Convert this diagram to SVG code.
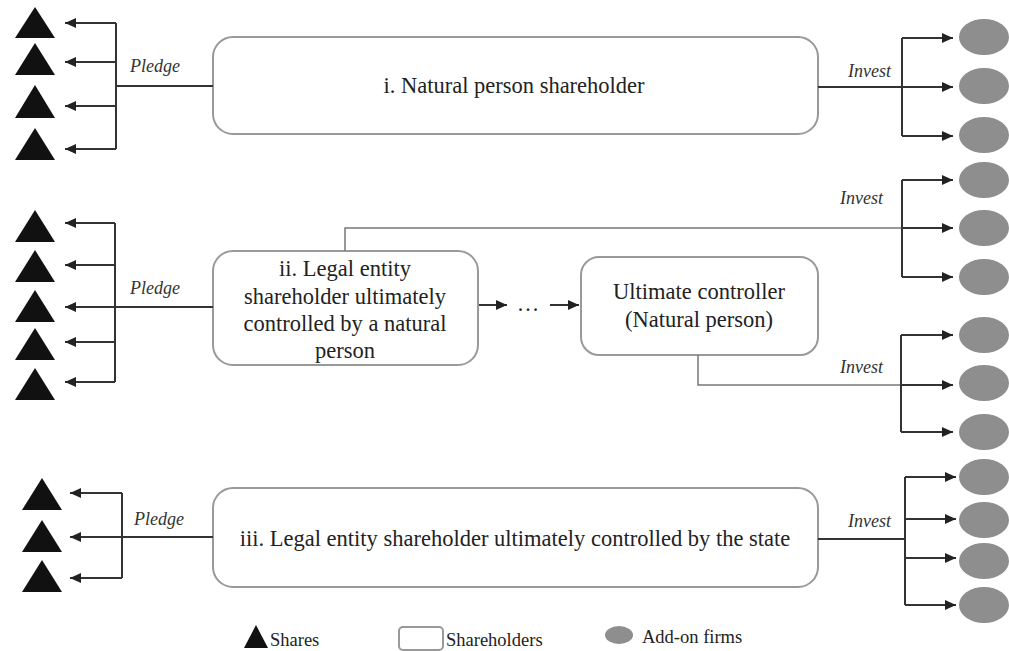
<svg xmlns="http://www.w3.org/2000/svg" width="1009" height="651" viewBox="0 0 1009 651">
<style>
.box{fill:#fff;stroke:#999;stroke-width:2}
.tri{fill:#111}
.firm{fill:#8e8e8e}
.ln{fill:none;stroke:#333;stroke-width:2}
.lnl{fill:none;stroke:#777;stroke-width:1.5}
.t{font-family:"Liberation Serif","Times New Roman",serif;font-size:22.5px;fill:#222;text-anchor:middle}
.lab{font-family:"Liberation Serif","Times New Roman",serif;font-size:18px;font-style:italic;fill:#333}
.leg{font-family:"Liberation Serif","Times New Roman",serif;font-size:18.5px;fill:#222}
</style>
<defs>
<marker id="ah" markerUnits="userSpaceOnUse" markerWidth="11" markerHeight="10" refX="11" refY="5" orient="auto">
<path d="M0,0 L11,5 L0,10 z" fill="#222"/>
</marker>
</defs>
<rect width="1009" height="651" fill="#fff"/>

<g id="shares">
<polygon class="tri" points="35,7 55,38 15,38"/>
<polygon class="tri" points="35,43 55,75 15,75"/>
<polygon class="tri" points="35,85 55,118 15,118"/>
<polygon class="tri" points="35,128 55,160 15,160"/>
<polygon class="tri" points="35,210 55,242 15,242"/>
<polygon class="tri" points="35,250 55,282 15,282"/>
<polygon class="tri" points="35,290 55,322 15,322"/>
<polygon class="tri" points="35,328 55,360 15,360"/>
<polygon class="tri" points="35,368 55,400 15,400"/>
<polygon class="tri" points="42,478 62,510 22,510"/>
<polygon class="tri" points="42,520 62,552 22,552"/>
<polygon class="tri" points="42,560 62,592 22,592"/>
</g>

<g id="firms">
<ellipse class="firm" cx="984" cy="37" rx="25" ry="18"/>
<ellipse class="firm" cx="984" cy="86" rx="25" ry="18"/>
<ellipse class="firm" cx="984" cy="135" rx="25" ry="18"/>
<ellipse class="firm" cx="984" cy="180" rx="25" ry="18"/>
<ellipse class="firm" cx="984" cy="228" rx="25" ry="18"/>
<ellipse class="firm" cx="984" cy="277" rx="25" ry="18"/>
<ellipse class="firm" cx="984" cy="335" rx="25" ry="18"/>
<ellipse class="firm" cx="984" cy="383" rx="25" ry="18"/>
<ellipse class="firm" cx="984" cy="432" rx="25" ry="18"/>
<ellipse class="firm" cx="984" cy="477" rx="25" ry="18"/>
<ellipse class="firm" cx="984" cy="520" rx="25" ry="18"/>
<ellipse class="firm" cx="984" cy="561" rx="25" ry="18"/>
<ellipse class="firm" cx="984" cy="605" rx="25" ry="18"/>
</g>

<g id="box-i">
<rect class="box" x="213" y="37" width="605" height="97" rx="20"/>
<text class="t" x="514" y="93">i. Natural person shareholder</text>
</g>

<g id="box-ii">
<rect class="box" x="213" y="251" width="265" height="114" rx="20"/>
<text class="t" x="345" y="276">ii. Legal entity</text>
<text class="t" x="345" y="304">shareholder ultimately</text>
<text class="t" x="345" y="331">controlled by a natural</text>
<text class="t" x="345" y="358">person</text>
</g>

<g id="box-ultimate">
<rect class="box" x="581" y="257" width="237" height="98" rx="18"/>
<text class="t" x="699" y="299">Ultimate controller</text>
<text class="t" x="699" y="327">(Natural person)</text>
</g>

<g id="box-iii">
<rect class="box" x="213" y="488" width="605" height="99" rx="20"/>
<text class="t" x="515" y="546">iii. Legal entity shareholder ultimately controlled by the state</text>
</g>

<g id="connectors">
<path class="ln" d="M213,86 H116 M116,23 V149"/>
<path class="ln" marker-end="url(#ah)" d="M116,23 H65"/>
<path class="ln" marker-end="url(#ah)" d="M116,62 H65"/>
<path class="ln" marker-end="url(#ah)" d="M116,106 H65"/>
<path class="ln" marker-end="url(#ah)" d="M116,149 H65"/>
<path class="ln" d="M818,87 H902 M902,38 V136"/>
<path class="ln" marker-end="url(#ah)" d="M902,38 H953"/>
<path class="ln" marker-end="url(#ah)" d="M902,87 H953"/>
<path class="ln" marker-end="url(#ah)" d="M902,136 H953"/>
<path class="ln" d="M213,307 H115 M115,223 V382"/>
<path class="ln" marker-end="url(#ah)" d="M115,223 H65"/>
<path class="ln" marker-end="url(#ah)" d="M115,265 H65"/>
<path class="ln" marker-end="url(#ah)" d="M115,307 H65"/>
<path class="ln" marker-end="url(#ah)" d="M115,342 H65"/>
<path class="ln" marker-end="url(#ah)" d="M115,382 H65"/>
<path class="lnl" d="M345,251 V228 H902"/>
<path class="ln" d="M902,180 V277"/>
<path class="ln" marker-end="url(#ah)" d="M902,180 H953"/>
<path class="ln" marker-end="url(#ah)" d="M902,228 H953"/>
<path class="ln" marker-end="url(#ah)" d="M902,277 H953"/>
<path class="ln" marker-end="url(#ah)" d="M479,305 H507"/>
<text x="528" y="311" class="t">…</text>
<path class="ln" marker-end="url(#ah)" d="M550,305 H579"/>
<path class="lnl" d="M698,355 V385 H901"/>
<path class="ln" d="M901,335 V432"/>
<path class="ln" marker-end="url(#ah)" d="M901,335 H953"/>
<path class="ln" marker-end="url(#ah)" d="M901,385 H953"/>
<path class="ln" marker-end="url(#ah)" d="M901,432 H953"/>
<path class="ln" d="M213,537 H122 M122,493 V578"/>
<path class="ln" marker-end="url(#ah)" d="M122,493 H70"/>
<path class="ln" marker-end="url(#ah)" d="M122,537 H70"/>
<path class="ln" marker-end="url(#ah)" d="M122,578 H70"/>
<path class="ln" d="M818,539 H905 M905,477 V605"/>
<path class="ln" marker-end="url(#ah)" d="M905,477 H956"/>
<path class="ln" marker-end="url(#ah)" d="M905,519 H956"/>
<path class="ln" marker-end="url(#ah)" d="M905,558 H956"/>
<path class="ln" marker-end="url(#ah)" d="M905,605 H956"/>
</g>

<g id="labels">
<text class="lab" x="130" y="72">Pledge</text>
<text class="lab" x="130" y="294">Pledge</text>
<text class="lab" x="134" y="525">Pledge</text>
<text class="lab" x="848" y="77">Invest</text>
<text class="lab" x="840" y="204">Invest</text>
<text class="lab" x="840" y="373">Invest</text>
<text class="lab" x="848" y="527">Invest</text>
</g>

<g id="legend">
<polygon class="tri" points="256,625 268,648 244,648"/>
<text class="leg" x="270" y="646">Shares</text>
<rect class="box" x="399" y="627" width="44" height="23" rx="4"/>
<text class="leg" x="446" y="646">Shareholders</text>
<ellipse class="firm" cx="619" cy="635" rx="14" ry="9"/>
<text class="leg" x="642" y="643">Add-on firms</text>
</g>
</svg>
